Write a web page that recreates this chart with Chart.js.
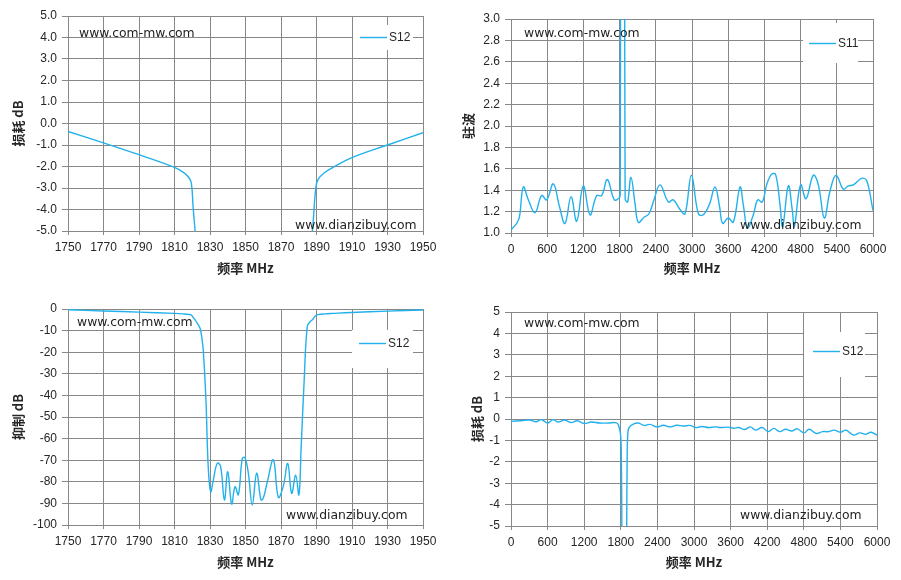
<!DOCTYPE html>
<html>
<head>
<meta charset="utf-8">
<title>S12 / S11</title>
<script src="https://cdn.jsdelivr.net/npm/chart.js@4.4.1/dist/chart.umd.min.js"></script>
<style>
  html, body { margin: 0; padding: 0; background: #fff; }
  #page { position: relative; width: 901px; height: 580px; }
  .cell { position: absolute; }
</style>
</head>
<body>
<div id="page">
  <div class="cell" style="left:0;top:0"><canvas id="c1" width="450" height="290"></canvas></div>
  <div class="cell" style="left:450px;top:0"><canvas id="c2" width="451" height="290"></canvas></div>
  <div class="cell" style="left:0;top:290px"><canvas id="c3" width="450" height="290"></canvas></div>
  <div class="cell" style="left:450px;top:290px"><canvas id="c4" width="451" height="290"></canvas></div>
</div>

<script>
// tick labels
var narrowTicks = [1750, 1770, 1790, 1810, 1830, 1850, 1870, 1890, 1910, 1930, 1950];
var wideTicks = [0, 600, 1200, 1800, 2400, 3000, 3600, 4200, 4800, 5400, 6000];
var lossTicks = [-5, -4, -3, -2, -1, 0, 1, 2, 3, 4, 5];
var vswrTicks = [1.0, 1.2, 1.4, 1.6, 1.8, 2.0, 2.2, 2.4, 2.6, 2.8, 3.0];
var rejTicks = [-100, -90, -80, -70, -60, -50, -40, -30, -20, -10, 0];

// S12 around the notch (MHz, dB)
var s12Freq = [1750, 1770, 1790, 1810, 1815, 1818, 1819.5, 1820.5, 1821.6, 1822.8,
  1824.4, 1825.3, 1826.2, 1827.7, 1829, 1830.4, 1831.9, 1834.1, 1836, 1838.1,
  1840, 1842.2, 1844.1, 1846, 1848.2, 1849.7, 1851.6, 1853.8, 1856.3, 1858.7,
  1860, 1862.3, 1865.7, 1868.5, 1871.3, 1873.8, 1876, 1878.3, 1880.1, 1881.3,
  1883, 1884.8, 1886.5, 1887.8, 1889.6, 1890.9, 1894.6, 1899.3, 1909.6, 1930, 1950];
var s12Db = [-0.37, -0.9, -1.45, -2.04, -2.27, -2.5, -2.78, -3.9, -5.0, -6.5,
  -8.9, -12.7, -19, -42, -73, -84.6, -79, -71.4, -73, -88.4,
  -75.3, -90.3, -82.3, -86, -69.1, -68.9, -76, -90.7, -76, -88.4,
  -87.6, -80, -69.9, -87.2, -82, -71.5, -85.3, -77, -86, -65,
  -34, -8.0, -5.8, -4.9, -3.0, -2.6, -2.28, -2.04, -1.6, -1.0, -0.43];

// S11 wideband (MHz, VSWR)
var s11Freq = [0, 94, 140, 204, 287, 398, 508, 591, 702, 802,
  895, 995, 1089, 1199, 1310, 1420, 1503, 1597, 1713, 1796,
  1810, 1816, 1845, 1882, 1892, 1905, 1934, 1989, 2055, 2110,
  2210, 2287, 2370, 2470, 2608, 2690, 2801, 2884, 2990, 3105,
  3188, 3290, 3381, 3456, 3508, 3602, 3685, 3796, 3851, 3920,
  4017, 4088, 4165, 4237, 4320, 4387, 4459, 4503, 4597, 4663,
  4696, 4800, 4890, 5011, 5094, 5193, 5287, 5387, 5508, 5590,
  5674, 5812, 5895, 6000];
var s11Vswr = [1.03, 1.09, 1.15, 1.43, 1.31, 1.19, 1.35, 1.31, 1.46, 1.25,
  1.09, 1.34, 1.11, 1.44, 1.17, 1.35, 1.35, 1.50, 1.31, 1.33,
  1.36, 4.0, 12, 4.0, 1.32, 1.30, 1.29, 1.52, 1.28, 1.10,
  1.15, 1.18, 1.31, 1.45, 1.29, 1.31, 1.22, 1.18, 1.54, 1.18,
  1.17, 1.27, 1.43, 1.25, 1.09, 1.14, 1.10, 1.43, 1.26, 1.05,
  1.17, 1.31, 1.29, 1.45, 1.55, 1.545, 1.26, 1.06, 1.44, 1.21,
  1.06, 1.45, 1.32, 1.54, 1.45, 1.14, 1.39, 1.54, 1.41, 1.44,
  1.45, 1.51, 1.49, 1.21];

// S12 wideband (MHz, dB)
var s12WideFreq = [0, 165, 302, 412, 494, 604, 686, 769, 878, 988,
  1087, 1197, 1318, 1455, 1592, 1713, 1757, 1795, 1808, 1818,
  1855, 1896, 1905, 1915, 1935, 2004, 2086, 2185, 2278, 2388,
  2498, 2608, 2718, 2827, 2926, 3030, 3129, 3239, 3349, 3448,
  3558, 3651, 3733, 3832, 3925, 4008, 4118, 4216, 4310, 4403,
  4502, 4601, 4694, 4804, 4886, 5007, 5106, 5205, 5298, 5397,
  5490, 5611, 5721, 5820, 5902, 6000];
var s12WideDb = [-0.11, -0.08, -0.05, -0.13, -0.03, -0.19, -0.03, -0.14, -0.05, -0.17,
  -0.08, -0.21, -0.14, -0.19, -0.19, -0.17, -0.25, -0.7, -1.6, -6,
  -60, -6, -1.6, -0.7, -0.4, -0.24, -0.19, -0.30, -0.25, -0.37,
  -0.29, -0.37, -0.29, -0.33, -0.30, -0.40, -0.35, -0.40, -0.37, -0.40,
  -0.38, -0.43, -0.40, -0.49, -0.37, -0.52, -0.40, -0.59, -0.44, -0.59,
  -0.48, -0.56, -0.46, -0.65, -0.48, -0.68, -0.59, -0.59, -0.52, -0.62,
  -0.52, -0.75, -0.65, -0.71, -0.62, -0.75];

var GRID = '#888888';
var LINE = '#22b1ec';
var TEXT = '#262626';
var CJK = "'Noto Sans CJK SC', 'Liberation Sans', sans-serif";

Chart.defaults.font.family = "'Liberation Sans', Arial, sans-serif";
Chart.defaults.font.size = 12;
Chart.defaults.color = TEXT;

// white legend box and the two site names, drawn on top
var marks = {
  id: 'marks',
  afterDraw: function (chart, args, opts) {
    var ctx = chart.ctx;
    var ds = chart.data.datasets[0];
    var L = opts.legend;
    ctx.save();
    ctx.fillStyle = '#fff';
    ctx.fillRect(L.x, L.y, L.w, L.h);
    ctx.strokeStyle = ds.borderColor;
    ctx.lineWidth = ds.borderWidth;
    ctx.beginPath();
    ctx.moveTo(L.lx, L.ly);
    ctx.lineTo(L.lx + 27, L.ly);
    ctx.stroke();
    ctx.fillStyle = TEXT;
    ctx.font = "12px 'Liberation Sans'";
    ctx.textBaseline = 'middle';
    ctx.fillText(ds.label, L.lx + 29, L.ly + 0.5);

    ctx.fillStyle = '#1e1e1e';
    ctx.font = "12.4px 'DejaVu Sans'";
    opts.notes.forEach(function (n) { ctx.fillText(n[0], n[1], n[2]); });
    ctx.restore();
  }
};

function ticksFrom(list) {
  return function (scale) { scale.ticks = list.map(function (v) { return { value: v }; }); };
}

function makeChart(id, freq, vals, label, o) {
  var pts = freq.map(function (f, i) { return { x: f, y: vals[i] }; });
  return new Chart(document.getElementById(id), {
    type: 'line',
    data: {
      datasets: [{
        label: label,
        data: pts,
        borderColor: LINE,
        borderWidth: 1.4,
        pointRadius: 0,
        fill: false,
        tension: 0.4
      }]
    },
    options: {
      responsive: false,
      animation: false,
      layout: { padding: { left: 0, top: o.top, right: o.right, bottom: 0 } },
      plugins: {
        legend: { display: false },
        tooltip: { enabled: false },
        marks: { legend: o.legend, notes: o.notes }
      },
      scales: {
        x: {
          type: 'linear',
          min: o.xTicks[0],
          max: o.xTicks[o.xTicks.length - 1],
          afterBuildTicks: ticksFrom(o.xTicks),
          afterFit: function (s) { s.height = o.xh; },
          grid: { color: GRID, tickColor: GRID, tickLength: 4 },
          border: { color: GRID },
          ticks: { autoSkip: false, maxRotation: 0, padding: 5, callback: whole },
          title: {
            display: true, text: '频率 MHz', color: TEXT,
            font: { family: CJK, size: 13, weight: 'bold' },
            padding: { top: 0, bottom: o.xtb }
          }
        },
        y: {
          min: o.yTicks[0],
          max: o.yTicks[o.yTicks.length - 1],
          afterBuildTicks: ticksFrom(o.yTicks),
          afterFit: function (s) { s.width = o.yw; },
          grid: { color: GRID, tickColor: GRID, tickLength: 6 },
          border: { color: GRID },
          ticks: { padding: 5, callback: o.fmt },
          title: {
            display: true, text: o.yTitle, color: TEXT,
            font: { family: CJK, size: 13, weight: 'bold' },
            padding: { top: o.ytt, bottom: 0 }
          }
        }
      }
    },
    plugins: [marks]
  });
}

function oneDecimal(v) { return Number(v).toFixed(1); }
function whole(v) { return String(v); }

makeChart('c1', s12Freq, s12Db, 'S12', {
  xTicks: narrowTicks, yTicks: lossTicks, yTitle: '损耗 dB', fmt: oneDecimal,
  top: 16, right: 27, xh: 59, yw: 68, xtb: 14, ytt: 10,
  legend: { x: 353, y: 25, w: 60, h: 25, lx: 360, ly: 37.5 },
  notes: [['www.com-mw.com', 79, 34], ['www.dianzibuy.com', 295, 226]]
});

makeChart('c2', s11Freq, s11Vswr, 'S11', {
  xTicks: wideTicks, yTicks: vswrTicks, yTitle: '驻波', fmt: oneDecimal,
  top: 19, right: 28, xh: 57, yw: 61, xtb: 14, ytt: 10,
  legend: { x: 353, y: 23, w: 55, h: 40, lx: 359, ly: 43.5 },
  notes: [['www.com-mw.com', 74, 34], ['www.dianzibuy.com', 290, 226]]
});

makeChart('c3', s12Freq, s12Db, 'S12', {
  xTicks: narrowTicks, yTicks: rejTicks, yTitle: '抑制 dB', fmt: whole,
  top: 19, right: 27, xh: 55, yw: 68, xtb: 10, ytt: 10,
  legend: { x: 352, y: 40, w: 61, h: 38, lx: 359, ly: 53.5 },
  notes: [['www.com-mw.com', 77, 33], ['www.dianzibuy.com', 286, 226]]
});

makeChart('c4', s12WideFreq, s12WideDb, 'S12', {
  xTicks: wideTicks, yTicks: lossTicks, yTitle: '损耗 dB', fmt: whole,
  top: 22, right: 24, xh: 54, yw: 61, xtb: 10, ytt: 19,
  legend: { x: 354, y: 42, w: 61, h: 45, lx: 363, ly: 61.5 },
  notes: [['www.com-mw.com', 74, 34], ['www.dianzibuy.com', 290, 226]]
});
</script>
</body>
</html>
